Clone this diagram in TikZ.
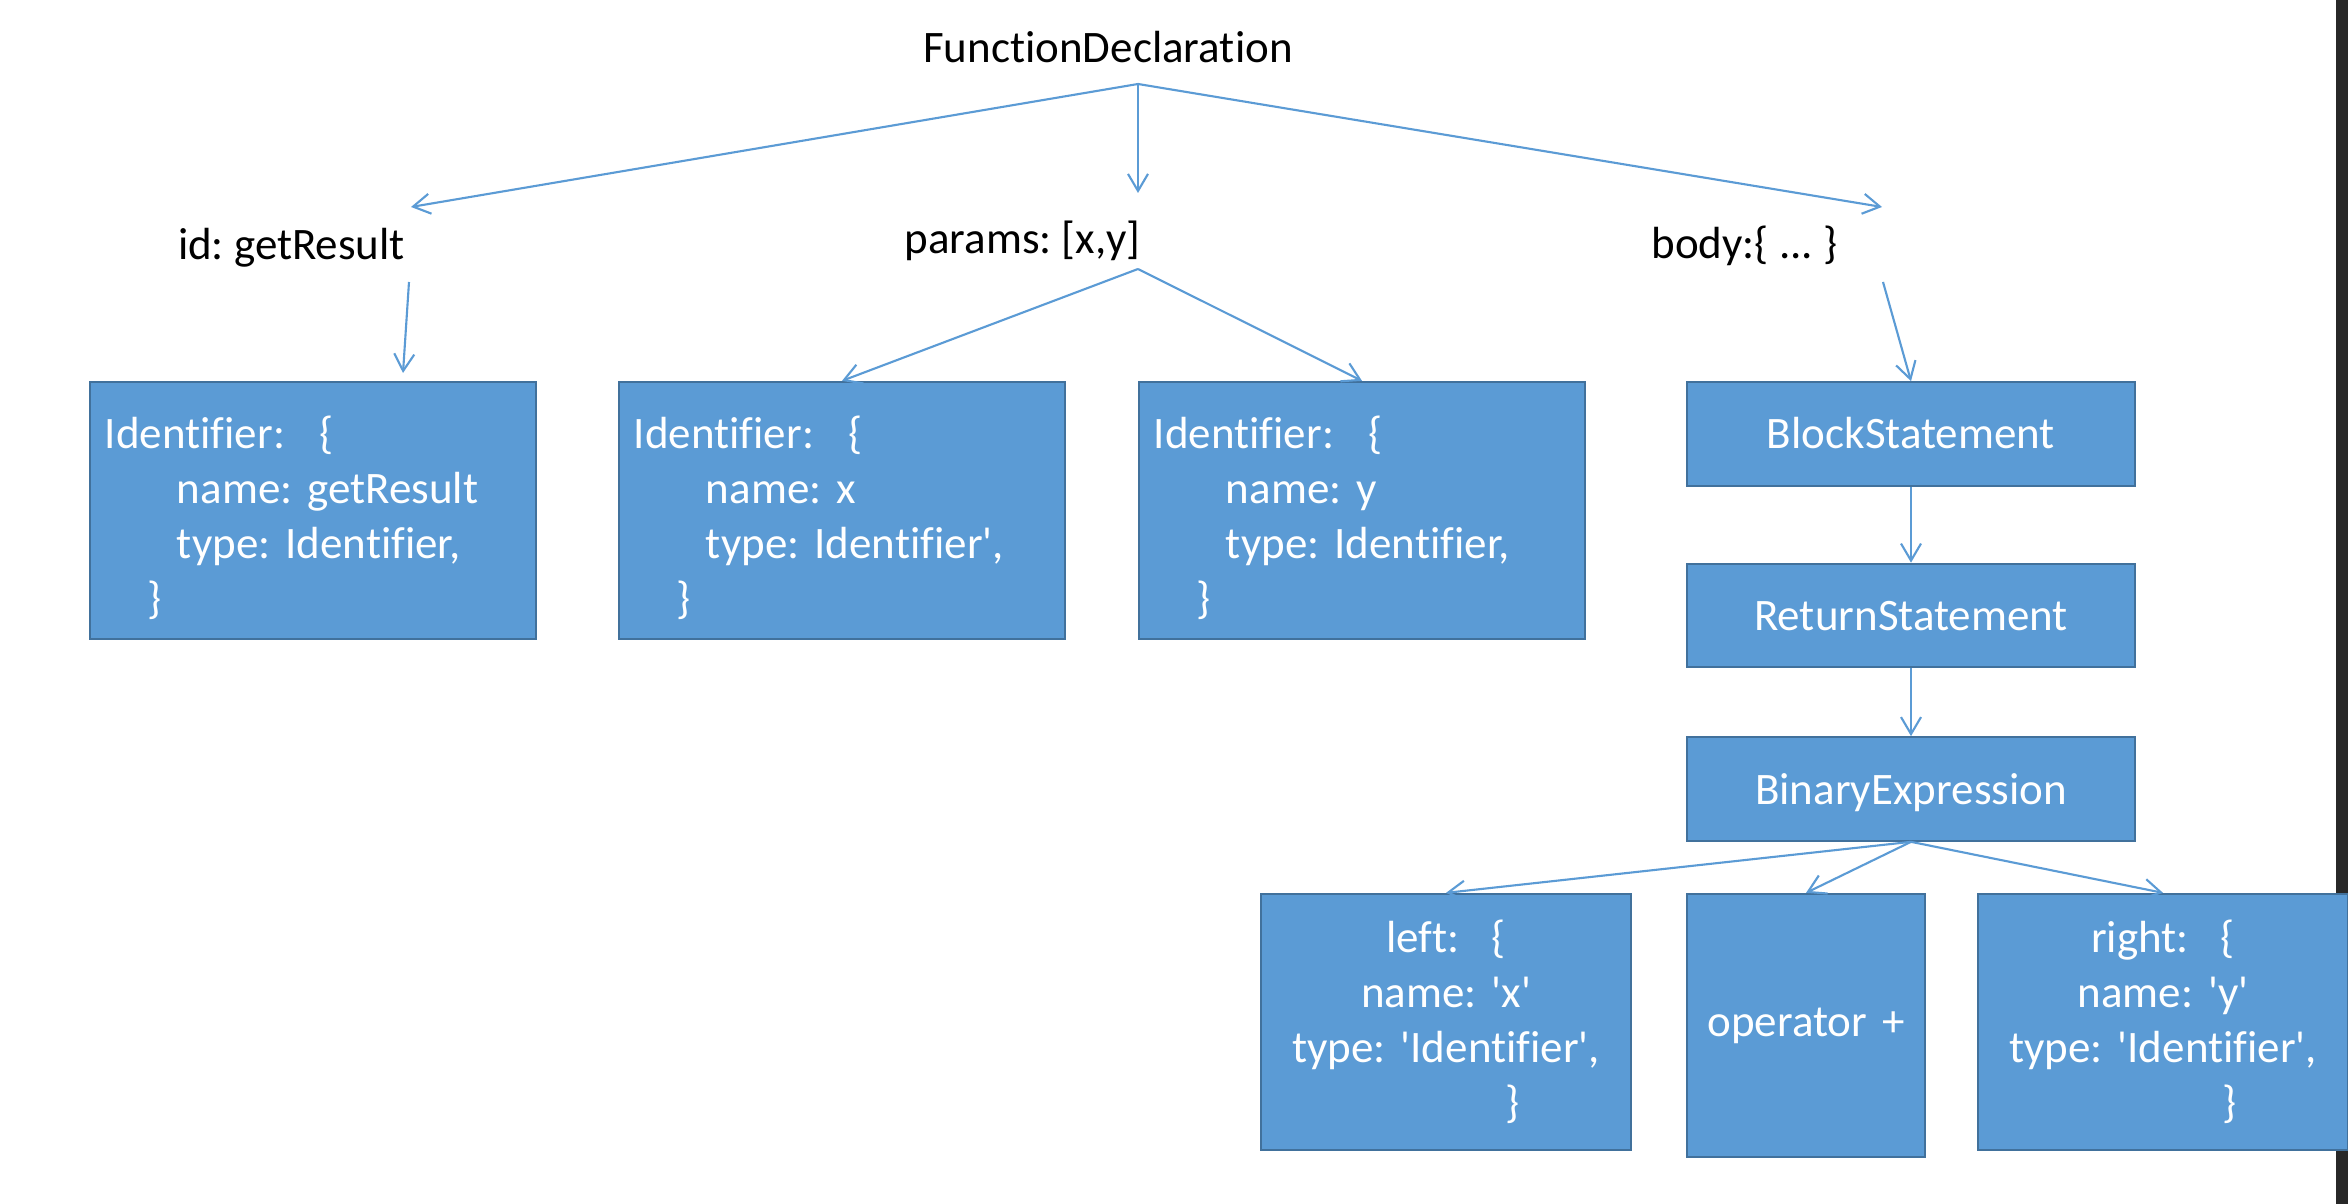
\documentclass[tikz,border=0pt]{standalone}
\usepackage{fontspec}
\setmainfont{Carlito}[Ligatures={TeX,NoCommon}]
\usetikzlibrary{arrows.meta}
\definecolor{boxfill}{HTML}{5B9BD5}
\definecolor{boxline}{HTML}{41719C}
\definecolor{arrowc}{HTML}{5B9BD5}
\definecolor{edgebar}{HTML}{282828}
\newcommand{\qsq}{\textquotesingle}
\newcommand{\topstrut}{\rule{0pt}{0.47cm}}
\frenchspacing
\begin{document}
\begin{tikzpicture}[x=0.01cm,y=-0.01cm,
  arr/.style={draw=arrowc, line width=0.6pt, -{Straight Barb[length=0.17cm,width=0.2cm]}},
  lbl/.style={font=\fontsize{12.8}{15.65}\selectfont, anchor=base, inner sep=0pt},
  blk/.style={draw=boxline, fill=boxfill, line width=0.6pt, text=white, font=\fontsize{12.8}{15.65}\selectfont, inner sep=0pt},
  idbox/.style={blk, minimum width=4.46cm, minimum height=2.57cm, text width=4.16cm, align=left},
  stmt/.style={blk, minimum width=4.48cm, minimum height=1.035cm, text height=0.30cm, text depth=0pt},
  opbox/.style={blk, minimum width=3.70cm, minimum height=2.56cm, text width=3.5cm, align=center}]
\fill[white] (0,0) rectangle (2348,1204);
\useasboundingbox (0,0) rectangle (2348,1204);
\fill[edgebar] (2336,0) rectangle (2348,1204);

% labels
\node[lbl] (fd) at (1108,63) {FunctionDeclaration};
\node[lbl] (id) at (291.5,260) {id: getResult};
\node[lbl] (par) at (1022.5,254) {params: [x,y]};
\node[lbl] (body) at (1744.5,259) {body:\{ ... \}};

% boxes
\node[idbox] (b1) at (313,510.5) {\topstrut Identifier:\hspace{0.34cm}\{\\
\hspace*{0.72cm}name: getResult\\
\hspace*{0.72cm}type: Identifier,\\
\hspace*{0.43cm}\}};
\node[idbox] (b2) at (842,510.5) {\topstrut Identifier:\hspace{0.34cm}\{\\
\hspace*{0.72cm}name: x\\
\hspace*{0.72cm}type: Identifier\qsq,\\
\hspace*{0.43cm}\}};
\node[idbox] (b3) at (1362,510.5) {\topstrut Identifier:\hspace{0.34cm}\{\\
\hspace*{0.72cm}name: y\\
\hspace*{0.72cm}type: Identifier,\\
\hspace*{0.43cm}\}};

\node[stmt] (blk) at (1911,434) {BlockStatement};
\node[stmt] (ret) at (1911,615.5) {ReturnStatement};
\node[stmt] (bin) at (1911,789) {BinaryExpression};

\node[opbox] (lft) at (1446,1022) {left:\hspace{0.32cm}\{\\
name: \qsq x\qsq\\
type: \qsq Identifier\qsq,\\
\hspace*{1.34cm}\}};
\node[opbox, minimum width=2.38cm, minimum height=2.63cm, text width=2.2cm] (op) at (1806,1025.5) {operator +};
\node[opbox] (rgt) at (2163,1022) {right:\hspace{0.32cm}\{\\
name: \qsq y\qsq\\
type: \qsq Identifier\qsq,\\
\hspace*{1.34cm}\}};

% free connector ends
\coordinate (hub) at (1138,84);
\coordinate (idin) at (411,207);
\coordinate (parin) at (1138,193);
\coordinate (bodyin) at (1882,207);
\coordinate (idout) at (409,282);
\coordinate (parout) at (1138,269);
\coordinate (bodyout) at (1883,282);
\coordinate (b1in) at (403,373);

% connectors
\draw[arr] (hub) -- (idin);
\draw[arr] (hub) -- (parin);
\draw[arr] (hub) -- (bodyin);
\draw[arr] (idout) -- (b1in);
\draw[arr] (parout) -- (b2.north);
\draw[arr] (parout) -- (b3.north);
\draw[arr] (bodyout) -- (blk.north);
\draw[arr] (blk.south) -- (ret.north);
\draw[arr] (ret.south) -- (bin.north);
\draw[arr] (bin.south) -- (lft.north);
\draw[arr] (bin.south) -- (op.north);
\draw[arr] (bin.south) -- (rgt.north);
\end{tikzpicture}
\end{document}
